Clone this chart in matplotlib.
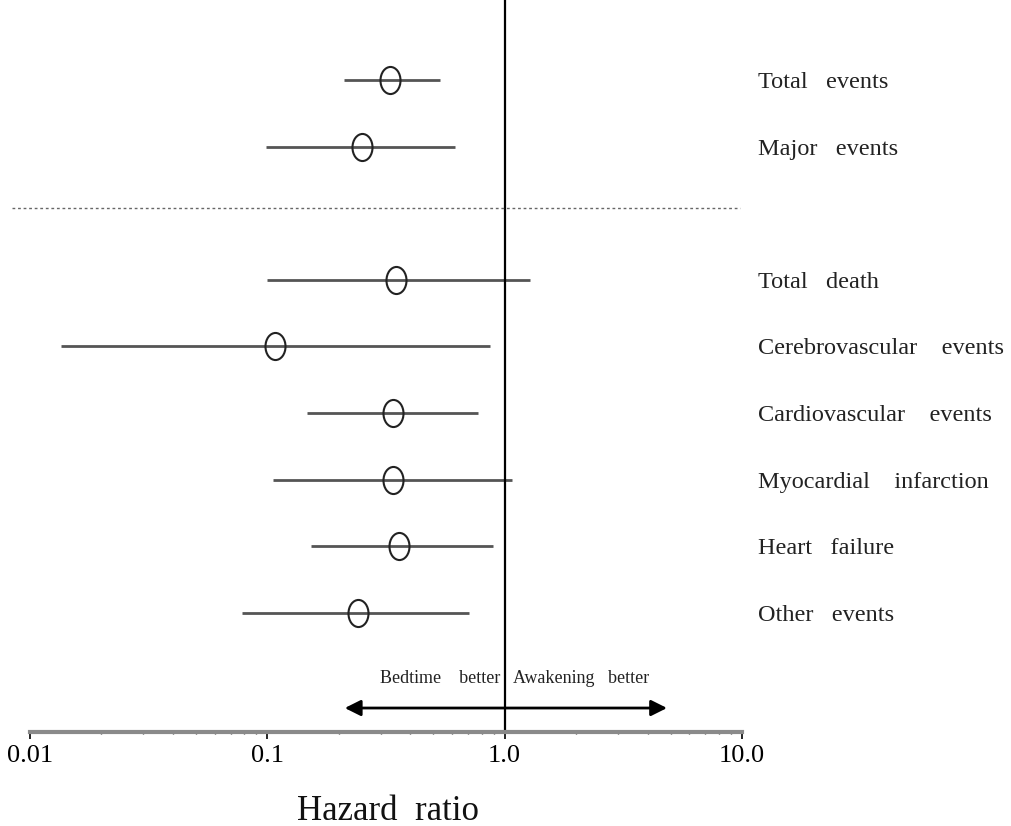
import numpy as np
import matplotlib
matplotlib.use("Agg")
import matplotlib.pyplot as plt
from matplotlib.path import Path
from matplotlib.transforms import Affine2D, blended_transform_factory
from matplotlib.ticker import FixedLocator, LogLocator, NullFormatter

plt.rcParams["font.family"] = ["Liberation Serif", "DejaVu Serif"]

# ===== DATA (hazard ratios with 95% CI) =====
outcomes = ["Total   events", "Major   events",
            "Total   death", "Cerebrovascular    events",
            "Cardiovascular    events", "Myocardial    infarction",
            "Heart   failure", "Other   events"]
row_pos = [0, 1, 3, 4, 5, 6, 7, 8]
hr = [0.33, 0.25, 0.35, 0.108, 0.34, 0.34, 0.36, 0.24]
ci_low = [0.21, 0.099, 0.10, 0.0135, 0.147, 0.106, 0.153, 0.078]
ci_high = [0.535, 0.62, 1.28, 0.87, 0.775, 1.075, 0.89, 0.71]

tick_vals = [0.01, 0.1, 1.0, 10.0]
tick_labels = ["0.01", "0.1", "1.0", "10.0"]

# ===== FIGURE =====
fig = plt.figure(figsize=(10.11, 8.26), dpi=100)
ax = fig.add_axes([30 / 1011, 1 - 732 / 826, 712 / 1011, 732 / 826])
ax.set_xscale("log")
ax.set_xlim(0.01, 10)
ax.set_ylim(9.79, -1.2)

# open ellipse marker (taller than wide)
ell = Path.unit_circle().transformed(Affine2D().scale(0.74, 1.0))

for y, lo, hi, m in zip(row_pos, ci_low, ci_high, hr):
    ax.plot([lo, hi], [y, y], color="#555555", lw=2.0, solid_capstyle="butt")
    ax.plot(m, y, marker=ell, ms=19.5, mfc="none", mec="#222222", mew=1.5)

# reference line at HR = 1
ax.axvline(1.0, color="black", lw=1.6)

# dotted separator
ax.plot([0.0084, 9.8], [1.92, 1.92], color="#666666", lw=1.0,
        dashes=(2, 2), clip_on=False)

# direction arrow and labels
ax.annotate("", xy=(0.212, 9.43), xytext=(4.83, 9.43),
            arrowprops=dict(arrowstyle="<|-|>", color="black", lw=2.0,
                            mutation_scale=24, shrinkA=0, shrinkB=0))
ax.text(0.958, 8.99, "Bedtime    better", fontsize=13, ha="right",
        va="center", color="#222222")
ax.text(1.085, 8.99, "Awakening   better", fontsize=13, ha="left",
        va="center", color="#222222")

# outcome labels on the right
trans = blended_transform_factory(fig.transFigure, ax.transData)
for y, name in zip(row_pos, outcomes):
    ax.text(758 / 1011, y, name, transform=trans, fontsize=17.5,
            ha="left", va="center_baseline", color="#222222", clip_on=False)

# ===== AXES STYLE =====
for s in ["top", "left", "right"]:
    ax.spines[s].set_visible(False)
ax.spines["bottom"].set_color("#8a8a8a")
ax.spines["bottom"].set_linewidth(3.0)
ax.set_yticks([])

ax.xaxis.set_major_locator(FixedLocator(tick_vals))
ax.set_xticklabels(tick_labels, fontsize=19)
ax.xaxis.set_minor_locator(LogLocator(base=10, subs=np.arange(2, 10)))
ax.xaxis.set_minor_formatter(NullFormatter())
ax.tick_params(axis="x", which="major", length=5, width=1.2,
               color="black", direction="out", pad=4)
ax.tick_params(axis="x", which="minor", length=3, width=1.0,
               color="#333333", direction="inout")

fig.text(388 / 1011, 1 - 820 / 826, "Hazard  ratio", fontsize=25,
         ha="center", va="baseline", color="#111111")

fig.savefig("out.png", dpi=100, facecolor="white")
